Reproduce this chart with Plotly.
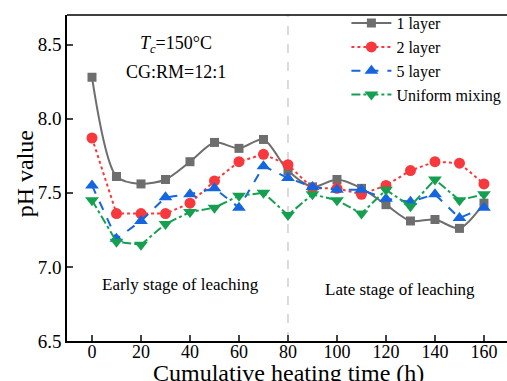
import plotly.graph_objects as go

time_h = [0, 10, 20, 30, 40, 50, 60, 70, 80, 90, 100, 110, 120, 130, 140, 150, 160]
ph_1layer = [8.28, 7.61, 7.56, 7.59, 7.71, 7.84, 7.80, 7.86, 7.65, 7.54, 7.59, 7.53, 7.42, 7.31, 7.32, 7.26, 7.43]
ph_2layer = [7.87, 7.36, 7.36, 7.36, 7.43, 7.58, 7.71, 7.76, 7.69, 7.53, 7.53, 7.49, 7.55, 7.65, 7.71, 7.70, 7.56]
ph_5layer = [7.55, 7.19, 7.31, 7.47, 7.49, 7.53, 7.40, 7.68, 7.60, 7.54, 7.52, 7.52, 7.46, 7.44, 7.49, 7.33, 7.40]
ph_uniform = [7.45, 7.17, 7.15, 7.29, 7.37, 7.40, 7.48, 7.50, 7.35, 7.49, 7.45, 7.36, 7.52, 7.41, 7.59, 7.45, 7.49]

x_ticks = [0, 20, 40, 60, 80, 100, 120, 140, 160]
y_ticks = [6.5, 7.0, 7.5, 8.0, 8.5]

FONT = "Liberation Serif"

fig = go.Figure()
fig.add_trace(go.Scatter(x=time_h, y=ph_1layer, name="1 layer", mode="lines+markers",
                         line=dict(color="#6e6e6e", width=2, shape="spline", smoothing=0.8),
                         marker=dict(symbol="square", size=9, color="#6e6e6e")))
fig.add_trace(go.Scatter(x=time_h, y=ph_2layer, name="2 layer", mode="lines+markers",
                         line=dict(color="#f7393d", width=2, dash="dot"),
                         marker=dict(symbol="circle", size=11, color="#f7393d")))
fig.add_trace(go.Scatter(x=time_h, y=ph_5layer, name="5 layer", mode="lines+markers",
                         line=dict(color="#1565e0", width=2, dash="dash"),
                         marker=dict(symbol="triangle-up", size=12, color="#1565e0")))
fig.add_trace(go.Scatter(x=time_h, y=ph_uniform, name="Uniform mixing", mode="lines+markers",
                         line=dict(color="#14a050", width=2, dash="dashdot"),
                         marker=dict(symbol="triangle-down", size=12, color="#14a050")))

fig.add_shape(type="line", xref="x", yref="paper", x0=80, x1=80, y0=0, y1=1,
              line=dict(color="#d0d0d0", width=1.5, dash="dash"), layer="below")
fig.add_shape(type="line", xref="paper", yref="paper", x0=0, x1=1, y0=1, y1=1,
              line=dict(color="black", width=1.5))

fig.add_annotation(x=0.248, y=0.908, xref="paper", yref="paper", showarrow=False,
                   xanchor="center", yanchor="middle",
                   text="<i>T</i><sub><i>c</i></sub>=150°C", font=dict(family=FONT, size=18, color="black"))
fig.add_annotation(x=0.248, y=0.825, xref="paper", yref="paper", showarrow=False,
                   xanchor="center", yanchor="middle",
                   text="CG:RM=12:1", font=dict(family=FONT, size=18, color="black"))
fig.add_annotation(x=36, y=6.878, showarrow=False, text="Early stage of leaching",
                   xanchor="center", yanchor="middle",
                   font=dict(family=FONT, size=17, color="black"))
fig.add_annotation(x=125.7, y=6.85, showarrow=False, text="Late stage of leaching",
                   xanchor="center", yanchor="middle",
                   font=dict(family=FONT, size=17, color="black"))

# axis titles
fig.add_annotation(x=0.503, y=-0.052, xref="paper", yref="paper", showarrow=False,
                   xanchor="center", yanchor="top",
                   text="Cumulative heating time (h)", font=dict(family=FONT, size=24, color="black"))
fig.add_annotation(x=-0.095, y=0.512, xref="paper", yref="paper", showarrow=False,
                   xanchor="center", yanchor="middle", textangle=-90,
                   text="pH value", font=dict(family=FONT, size=24, color="black"))

fig.update_layout(
    width=507, height=381,
    margin=dict(l=67, r=0, t=15, b=40),
    plot_bgcolor="white", paper_bgcolor="white",
    font=dict(family=FONT, color="black"),
    showlegend=True,
    legend=dict(x=0.635, y=1.027, xanchor="left", yanchor="top", bgcolor="rgba(0,0,0,0)",
                font=dict(family=FONT, size=16), tracegroupgap=0, itemwidth=40),
    xaxis=dict(range=[-10.2, 169.4], tickvals=x_ticks, ticks="inside", ticklen=6, tickwidth=1.5,
               showline=True, linecolor="black", linewidth=1.5, showgrid=False, zeroline=False,
               automargin=False, ticklabelstandoff=-6,
               tickfont=dict(family=FONT, size=18)),
    yaxis=dict(range=[6.5, 8.7], tickvals=y_ticks, tickformat=".1f", ticks="inside", ticklen=6, tickwidth=1.5,
               showline=True, linecolor="black", linewidth=1.5, showgrid=False, zeroline=False,
               automargin=False,
               tickfont=dict(family=FONT, size=19)),
)

fig.write_html("out.html", config={"displayModeBar": False},
               post_script="document.body.style.margin='0';")
